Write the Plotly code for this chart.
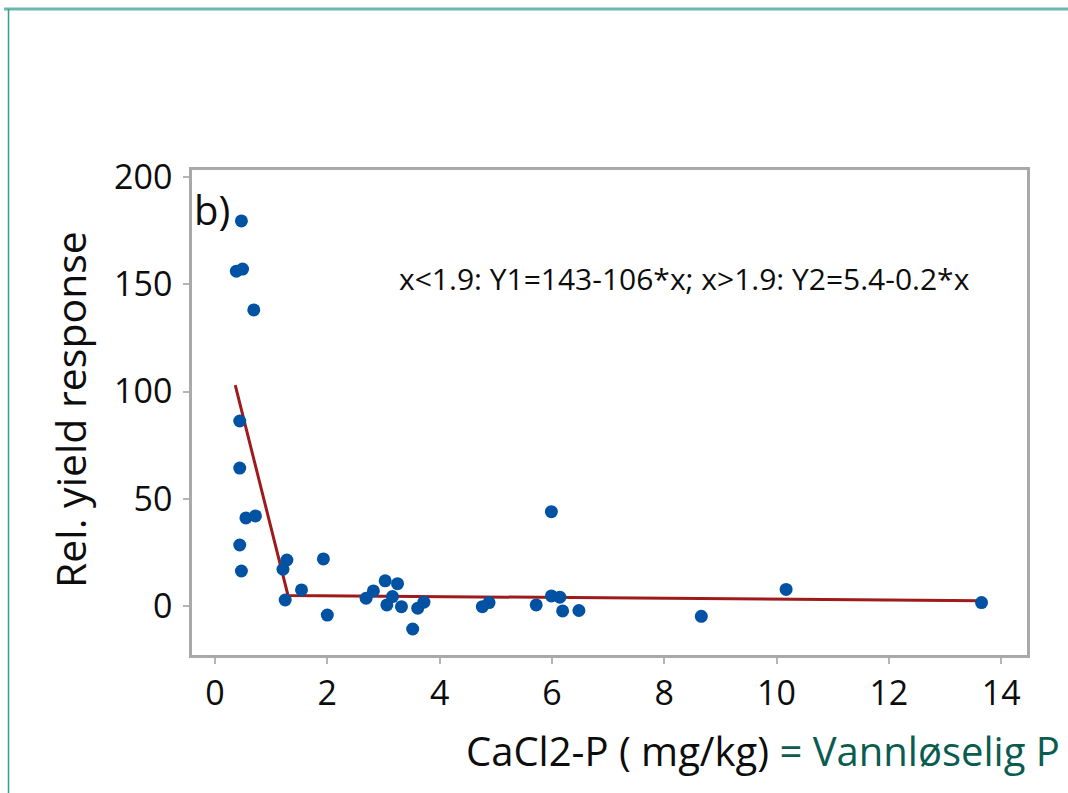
import plotly.graph_objects as go

# ---- data ----
cacl2_p = [0.47, 0.38, 0.49, 0.69, 0.44, 0.44, 0.55, 0.72, 0.44, 0.47,
           1.28, 1.21, 1.25, 1.54, 1.93, 2.00, 2.69, 2.82, 3.03, 3.25,
           3.16, 3.06, 3.32, 3.52, 3.61, 3.72, 4.76, 4.88, 5.72, 5.99,
           5.99, 6.14, 6.19, 6.48, 8.66, 10.17, 13.65]
rel_yield = [179.4, 156.0, 157.0, 138.0, 86.3, 64.4, 41.2, 42.1, 28.6, 16.5,
             21.6, 17.3, 3.0, 7.7, 22.1, -4.0, 3.8, 7.2, 11.9, 10.6,
             4.6, 0.7, -0.1, -10.5, -0.8, 2.0, -0.1, 1.8, 0.7, 44.1,
             4.9, 4.3, -2.1, -1.9, -4.6, 7.9, 1.8]
fit_x = [0.36, 1.30, 13.65]
fit_y = [103.0, 5.1, 2.7]

x_ticks = [0, 2, 4, 6, 8, 10, 12, 14]
y_ticks = [0, 50, 100, 150, 200]

equation_text = "x<1.9: Y1=143-106*x; x>1.9: Y2=5.4-0.2*x"
panel_label = "b)"
x_title_black = "CaCl2-P ( mg/kg)"
x_title_teal = "= Vannløselig P"
y_title = "Rel. yield response"

# ---- layout geometry (pixels) ----
W, H = 1068, 793
L, R, T, B = 192, 1027, 170, 655
PW, PH = R - L, B - T


def px(x):
    return (x - L) / PW


def py(y):
    return 1 - (y - T) / PH


FONT = "Open Sans"
INK = "#0D0D0D"

fig = go.Figure()
fig.add_trace(go.Scatter(
    x=fit_x, y=fit_y, mode="lines",
    line=dict(color="#9E1B1B", width=3),
    hoverinfo="skip", showlegend=False))
fig.add_trace(go.Scatter(
    x=cacl2_p, y=rel_yield, mode="markers",
    marker=dict(color="#0252A3", size=13, line=dict(width=0)),
    showlegend=False))

axis_common = dict(
    showgrid=False, zeroline=False, showline=True, mirror=True,
    linecolor="#A9A9A9", linewidth=2.5, ticks="outside", ticklen=6,
    tickcolor="#B5B5B5", tickwidth=1.5,
    tickfont=dict(family=FONT, size=34, color=INK),
)

fig.update_layout(
    width=W, height=H,
    margin=dict(l=L, r=W - R, t=T, b=H - B, pad=0),
    paper_bgcolor="white", plot_bgcolor="white",
    xaxis=dict(range=[-0.41, 14.46], tickvals=x_ticks, **axis_common),
    yaxis=dict(range=[-22.6, 203.1], tickvals=y_ticks, ticklabelstandoff=4,
               **axis_common),
    annotations=[
        dict(text=panel_label, x=px(192), y=py(209), xref="paper", yref="paper",
             xanchor="left", yanchor="middle", showarrow=False,
             font=dict(family=FONT, size=40, color=INK)),
        dict(text=equation_text, x=px(684), y=py(278), xref="paper", yref="paper",
             xanchor="center", yanchor="middle", showarrow=False,
             font=dict(family=FONT, size=30, color=INK)),
        dict(text=y_title, x=px(70), y=py(410), xref="paper", yref="paper",
             xanchor="center", yanchor="middle", textangle=-90, showarrow=False,
             font=dict(family=FONT, size=41, color=INK)),
        dict(text="<span style='font-size:40px'>" + x_title_black + "</span> "
                  "<span style='color:#0B5C50;font-size:40px'>" + x_title_teal + "</span>",
             x=px(1062), y=py(750), xref="paper", yref="paper",
             xanchor="right", yanchor="middle", showarrow=False,
             font=dict(family=FONT, size=40, color=INK)),
    ],
    shapes=[
        dict(type="line", xref="paper", yref="paper",
             x0=px(4), x1=px(1068), y0=py(9), y1=py(9),
             line=dict(color="#6DB8AE", width=3)),
        dict(type="line", xref="paper", yref="paper",
             x0=px(8.5), x1=px(8.5), y0=py(9), y1=py(793),
             line=dict(color="#2EA08F", width=1.5)),
    ],
)

fig.write_html("out.html")
